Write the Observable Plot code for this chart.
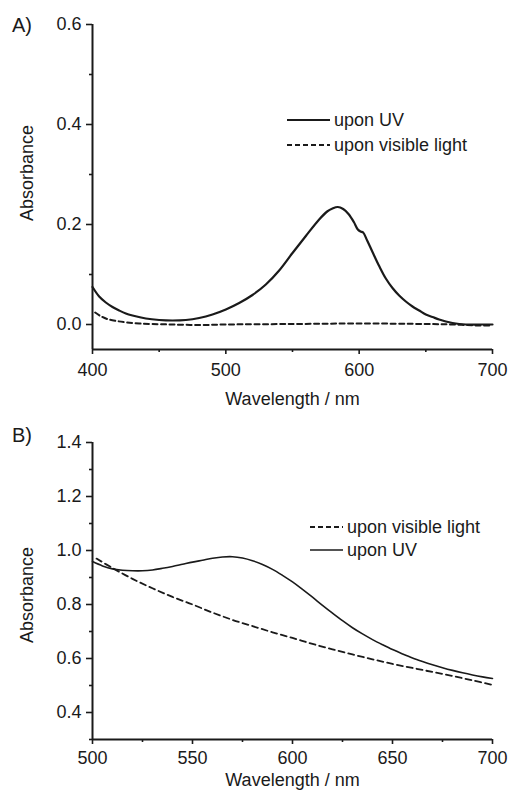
<!DOCTYPE html>
<html><head><meta charset="utf-8">
<script src="https://cdn.jsdelivr.net/npm/d3@7"></script>
<script src="https://cdn.jsdelivr.net/npm/@observablehq/plot@0.6"></script>
<style>
body{margin:0;background:#fff;}
#chart{position:relative;width:510px;height:792px;font-family:"Liberation Sans",Arial,sans-serif;color:#1a1a1a;overflow:hidden}
.panel{position:absolute;left:0}
.tag{position:absolute;left:12px;font-size:20px;line-height:1}
.legend{position:absolute;font-size:18px;line-height:1}
.legend .item{display:flex;align-items:center;height:0;position:absolute;left:0;white-space:nowrap}
.legend svg{margin-right:4px}
</style>
</head><body><div id="chart"></div>
<script>
// ---------- Panel A data ----------
const aTitle = "A)";
const aUVWl  = [400, 405, 410, 415, 420, 425, 430, 440, 450, 460, 470, 480, 490, 500, 510, 520, 530, 540, 550, 560, 570, 576, 580, 584, 588, 592, 596, 599, 601, 603, 606, 610, 615, 620, 625, 630, 635, 640, 645, 650, 655, 660, 665, 670, 675, 680, 690, 700];
const aUVAbs = [0.075, 0.056, 0.044, 0.035, 0.028, 0.022, 0.018, 0.012, 0.009, 0.008, 0.009, 0.013, 0.020, 0.030, 0.043, 0.059, 0.080, 0.108, 0.143, 0.177, 0.210, 0.226, 0.232, 0.235, 0.231, 0.221, 0.205, 0.190, 0.186, 0.184, 0.168, 0.145, 0.117, 0.092, 0.073, 0.058, 0.046, 0.036, 0.028, 0.020, 0.015, 0.010, 0.006, 0.003, 0.001, 0.000, 0.000, 0.000];
const aVisWl  = [402, 406, 411, 418, 426, 435, 445, 460, 480, 500, 550, 600, 650, 670, 690, 700];
const aVisAbs = [0.024, 0.017, 0.011, 0.007, 0.004, 0.002, 0.001, 0.000, -0.001, 0.000, 0.001, 0.002, 0.001, 0.000, -0.002, -0.002];
const aXDomain = [400, 700];
const aYDomain = [-0.05, 0.6];
const aXMajor = [400, 500, 600, 700];
const aXMinor = [450, 550, 650];
const aYMajor = [0.0, 0.2, 0.4, 0.6];
const aYMinor = [0.1, 0.3, 0.5];
const aLegend = ["upon UV", "upon visible light"];

// ---------- Panel B data ----------
const bTitle = "B)";
const bUVWl  = [500, 505, 510, 515, 520, 525, 530, 535, 540, 545, 550, 555, 560, 565, 570, 575, 580, 585, 590, 595, 600, 605, 610, 615, 620, 625, 630, 635, 640, 645, 650, 655, 660, 665, 670, 675, 680, 685, 690, 695, 700];
const bUVAbs = [0.959, 0.943, 0.932, 0.927, 0.925, 0.925, 0.928, 0.934, 0.941, 0.949, 0.957, 0.964, 0.971, 0.976, 0.977, 0.972, 0.962, 0.948, 0.930, 0.908, 0.884, 0.856, 0.827, 0.797, 0.768, 0.740, 0.714, 0.691, 0.670, 0.651, 0.633, 0.617, 0.602, 0.589, 0.577, 0.566, 0.556, 0.547, 0.539, 0.532, 0.526];
const bVisWl  = [502, 510, 520, 530, 540, 550, 560, 570, 580, 590, 600, 610, 620, 630, 640, 650, 660, 670, 680, 690, 700];
const bVisAbs = [0.970, 0.935, 0.895, 0.860, 0.828, 0.800, 0.770, 0.743, 0.720, 0.697, 0.676, 0.654, 0.634, 0.615, 0.597, 0.580, 0.565, 0.550, 0.535, 0.519, 0.502];
const bXDomain = [500, 700];
const bYDomain = [0.3, 1.4];
const bXMajor = [500, 550, 600, 650, 700];
const bXMinor = [525, 575, 625, 675];
const bYMajor = [0.4, 0.6, 0.8, 1.0, 1.2, 1.4];
const bYMinor = [0.3, 0.5, 0.7, 0.9, 1.1, 1.3];
const bLegend = ["upon visible light", "upon UV"];

const xLabel = "Wavelength / nm";
const yLabel = "Absorbance";

const INK = "#1a1a1a";
const FONT = "'Liberation Sans', Arial, sans-serif";
const zip = (xs, ys) => xs.map((x, i) => ({x, y: ys[i]}));

function panel(o) {
  return Plot.plot({
    width: 510, height: o.height,
    marginLeft: 92, marginRight: 18, marginTop: o.mt, marginBottom: o.mb,
    style: {fontFamily: FONT, fontSize: "18px", color: INK, background: "white", overflow: "visible"},
    x: {domain: o.xd},
    y: {domain: o.yd},
    marks: [
      Plot.axisX(o.xMajor, {tickSize: 5, tickPadding: o.xpad, strokeWidth: 1.6, tickFormat: d3.format("d"), label: null}),
      Plot.axisX(o.xMinor, {tickSize: 3, strokeWidth: 1.6, tickFormat: () => "", label: null}),
      Plot.axisY(o.yMajor, {tickSize: 6, tickPadding: 5, strokeWidth: 1.6, tickFormat: d3.format(".1f"), label: null}),
      Plot.axisY(o.yMinor, {tickSize: 3, strokeWidth: 1.6, tickFormat: () => "", label: null}),
      Plot.ruleX([o.xd[0]], {stroke: INK, strokeWidth: 2}),
      Plot.ruleY([o.yd[0]], {stroke: INK, strokeWidth: 2}),
      Plot.text([xLabel], {frameAnchor: "bottom", dy: o.xlDy, lineAnchor: "middle", textAnchor: "middle", fontSize: 18, fill: INK}),
      Plot.text([yLabel], {frameAnchor: "left", dx: -65, dy: o.ylDy, rotate: -90, lineAnchor: "middle", textAnchor: "middle", fontSize: 18, fill: INK}),
      Plot.line(o.vis, {x: "x", y: "y", stroke: INK, strokeWidth: o.visW, strokeDasharray: o.dash, curve: "catmull-rom"}),
      Plot.line(o.uv, {x: "x", y: "y", stroke: INK, strokeWidth: o.uvW, curve: "catmull-rom"})
    ]
  });
}

const chart = document.getElementById("chart");

function place(el, top) {
  el.classList.add("panel");
  el.style.top = top + "px";
  chart.appendChild(el);
}

place(panel({height: 410, mt: 24, mb: 61, xd: aXDomain, yd: aYDomain,
  xMajor: aXMajor, xMinor: aXMinor, yMajor: aYMajor, yMinor: aYMinor, xpad: 9,
  uv: zip(aUVWl, aUVAbs), vis: zip(aVisWl, aVisAbs), uvW: 2.2, visW: 2, dash: "5,3.5",
  xlDy: 50, ylDy: -14}), 0);

place(panel({height: 382, mt: 32, mb: 53, xd: bXDomain, yd: bYDomain,
  xMajor: bXMajor, xMinor: bXMinor, yMajor: bYMajor, yMinor: bYMinor, xpad: 7,
  uv: zip(bUVWl, bUVAbs), vis: zip(bVisWl, bVisAbs), uvW: 1.6, visW: 1.8, dash: "6,4",
  xlDy: 41, ylDy: 4}), 410);

function tag(text, top) {
  const d = document.createElement("div");
  d.className = "tag"; d.textContent = text; d.style.top = top + "px";
  chart.appendChild(d);
}
tag(aTitle, 15);
tag(bTitle, 425);

function legend(items, styles, left, tops, swW) {
  const box = document.createElement("div");
  box.className = "legend"; box.style.left = left + "px"; box.style.top = "0px";
  items.forEach((label, i) => {
    const it = document.createElement("div");
    it.className = "item"; it.style.top = tops[i] + "px";
    const s = styles[i];
    it.innerHTML = `<svg width="${swW}" height="6"><line x1="0" x2="${swW}" y1="3" y2="3" stroke="${INK}" stroke-width="${s.w}" ${s.dash ? `stroke-dasharray="${s.dash}"` : ""}/></svg><span>${label}</span>`;
    box.appendChild(it);
  });
  chart.appendChild(box);
}
legend(aLegend, [{w: 2.2}, {w: 2, dash: "5,3"}], 287, [120, 145], 43);
legend(bLegend, [{w: 1.8, dash: "5,3"}, {w: 1.6}], 310, [527, 550], 33);
</script>
</body></html>
